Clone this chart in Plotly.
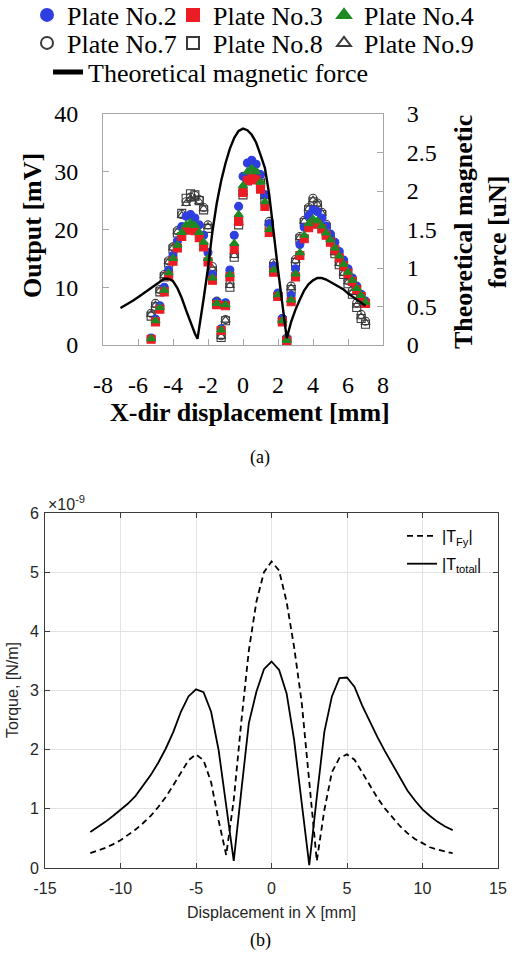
import plotly.graph_objects as go

# ---------------- data: (a) sensor output vs displacement ----------------
x_disp = [-5.25, -5.0, -4.75, -4.5, -4.25, -4.0, -3.75, -3.5, -3.25, -3.0,
          -2.75, -2.5, -2.25, -2.0, -1.75, -1.5, -1.25, -1.0, -0.75, -0.5,
          -0.25, 0.0, 0.25, 0.5, 0.75, 1.0, 1.25, 1.5, 1.75, 2.0,
          2.25, 2.5, 2.75, 3.0, 3.25, 3.5, 3.75, 4.0, 4.25, 4.5,
          4.75, 5.0, 5.25, 5.5, 5.75, 6.0, 6.25, 6.5, 6.75, 7.0]

plate2 = [1.2, 4.5, 6.8, 10.0, 13.0, 15.5, 18.0, 20.5, 22.3, 22.6,
          22.0, 20.8, 19.0, 16.0, 12.2, 7.5, 2.8, 7.3, 13.0, 19.0,
          24.0, 29.2, 31.5, 32.0, 31.3, 29.5, 26.0, 21.0, 13.6, 9.0,
          4.6, 1.0, 8.6, 13.2, 17.4, 20.4, 22.4, 23.4, 23.1, 22.0,
          20.6, 19.2, 17.8, 16.2, 14.7, 13.2, 11.6, 10.2, 8.8, 7.6]
plate3 = [1.0, 4.0, 6.2, 9.2, 12.0, 14.5, 16.8, 18.8, 19.9, 20.2,
          19.8, 18.6, 17.0, 14.4, 11.2, 7.0, 2.5, 6.8, 11.8, 16.6,
          21.4, 26.4, 28.5, 29.0, 28.6, 27.0, 24.0, 19.5, 12.6, 8.4,
          4.0, 0.7, 7.5, 11.8, 15.5, 18.4, 20.3, 21.1, 20.9, 20.1,
          19.0, 17.8, 16.5, 15.1, 13.7, 12.4, 11.0, 9.6, 8.4, 7.2]
plate4 = [1.1, 4.2, 6.5, 9.5, 12.5, 15.0, 17.3, 19.5, 20.8, 21.2,
          20.7, 19.5, 17.8, 15.0, 11.6, 7.2, 2.6, 7.0, 12.2, 17.6,
          22.6, 27.6, 30.0, 30.6, 30.0, 28.2, 24.8, 20.0, 13.0, 8.7,
          4.2, 0.8, 7.8, 12.3, 16.0, 19.0, 21.0, 21.8, 21.5, 20.6,
          19.4, 18.2, 16.8, 15.4, 14.0, 12.6, 11.2, 9.8, 8.6, 7.4]
plate7 = [5.5, 7.2, 9.6, 12.2, 14.6, 17.0, 19.8, 22.6, 24.8, 25.6,
          25.9, 25.2, 23.8, 20.8, 13.6, 7.6, 1.6, 4.4, 10.6, 15.8,
          21.6, 26.8, 29.2, 30.2, 29.8, 28.6, 26.0, 21.4, 14.2, 8.8,
          4.6, 1.2, 10.2, 14.8, 18.8, 21.6, 23.8, 25.4, 24.6, 23.0,
          20.9, 18.6, 16.3, 14.4, 12.7, 11.2, 9.5, 7.3, 5.3, 4.1]
plate8 = [5.0, 6.6, 9.2, 11.8, 14.2, 16.6, 19.4, 22.8, 25.4, 26.2,
          26.0, 25.0, 23.4, 20.2, 12.8, 7.2, 1.3, 4.2, 10.0, 15.2,
          20.8, 26.0, 28.4, 29.3, 29.0, 28.0, 25.4, 20.8, 13.6, 8.4,
          4.2, 0.8, 9.6, 14.3, 18.4, 21.2, 23.4, 24.8, 24.2, 22.6,
          20.4, 18.0, 15.8, 13.9, 12.2, 10.6, 8.8, 6.5, 4.6, 3.6]
plate9 = [5.3, 6.9, 9.4, 12.0, 14.4, 16.8, 19.6, 22.4, 24.5, 25.3,
          25.4, 24.8, 23.6, 20.5, 13.2, 7.4, 1.5, 4.3, 10.3, 15.5,
          21.2, 26.4, 28.8, 29.8, 29.4, 28.3, 25.7, 21.1, 13.9, 8.6,
          4.4, 1.0, 9.9, 14.6, 18.6, 21.4, 23.6, 25.1, 24.4, 22.8,
          20.6, 18.3, 16.0, 14.1, 12.4, 10.9, 9.1, 6.9, 4.9, 3.9]

x_force = [-7.0, -6.75, -6.5, -6.25, -6.0, -5.75, -5.5, -5.25, -5.0, -4.75,
           -4.5, -4.25, -4.0, -3.75, -3.5, -3.25, -3.0, -2.75, -2.6, -2.5,
           -2.25, -2.0, -1.75, -1.5, -1.25, -1.0, -0.75, -0.5, -0.25, 0.0,
           0.25, 0.5, 0.75, 1.0, 1.25, 1.5, 1.75, 2.0, 2.25, 2.5,
           2.75, 3.0, 3.25, 3.5, 3.75, 4.0, 4.25, 4.5, 4.75, 5.0,
           5.25, 5.5, 5.75, 6.0, 6.25, 6.5, 6.75, 7.0]
force_uN = [0.48, 0.51, 0.55, 0.58, 0.62, 0.66, 0.71, 0.75, 0.79, 0.83,
            0.86, 0.86, 0.83, 0.74, 0.61, 0.45, 0.29, 0.15, 0.08, 0.22,
            0.60, 1.00, 1.47, 1.84, 2.13, 2.36, 2.55, 2.69, 2.78, 2.81,
            2.79, 2.73, 2.63, 2.47, 2.30, 1.95, 1.42, 0.98, 0.53, 0.09,
            0.30, 0.46, 0.59, 0.71, 0.79, 0.84, 0.87, 0.87, 0.85, 0.82,
            0.79, 0.76, 0.72, 0.67, 0.63, 0.59, 0.55, 0.51]

x_ticks_a = [-8, -6, -4, -2, 0, 2, 4, 6, 8]
x_ticktext_a = ["-8", "-6", "-4", "-2", "0", "2", "4", "6", "8"]

# ---------------- data: (b) torque vs displacement (x1e-9 N/m) ----------------
x_b = [-12, -11.5, -11, -10.5, -10, -9.5, -9, -8.5, -8, -7.5,
       -7, -6.5, -6, -5.5, -5, -4.5, -4, -3.5, -3, -2.5,
       -2, -1.5, -1, -0.5, 0, 0.5, 1, 1.5, 2, 2.5,
       3, 3.5, 4, 4.5, 5, 5.5, 6, 6.5, 7, 7.5,
       8, 8.5, 9, 9.5, 10, 10.5, 11, 11.5, 12]
t_fy = [0.25, 0.29, 0.34, 0.40, 0.47, 0.56, 0.65, 0.76, 0.88, 1.03,
        1.20, 1.40, 1.62, 1.82, 1.92, 1.82, 1.45, 0.80, 0.22, 1.15,
        2.47, 3.68, 4.50, 5.00, 5.18, 5.03, 4.50, 3.73, 2.80, 1.52,
        0.12, 0.98, 1.62, 1.86, 1.92, 1.83, 1.62, 1.40, 1.19, 1.01,
        0.85, 0.71, 0.59, 0.49, 0.42, 0.35, 0.31, 0.28, 0.25]
t_total = [0.61, 0.69, 0.78, 0.88, 0.98, 1.09, 1.22, 1.40, 1.57, 1.78,
           2.02, 2.30, 2.64, 2.90, 3.02, 2.97, 2.64, 1.99, 1.05, 0.12,
           1.30, 2.45, 2.98, 3.36, 3.49, 3.35, 2.95, 2.16, 1.10, 0.05,
           1.20, 2.30, 2.90, 3.21, 3.22, 3.06, 2.75, 2.47, 2.22, 1.98,
           1.76, 1.53, 1.31, 1.14, 0.99, 0.88, 0.78, 0.70, 0.64]

x_ticks_b = [-15, -10, -5, 0, 5, 10, 15]
x_ticktext_b = ["-15", "-10", "-5", "0", "5", "10", "15"]

# ---------------- layout helpers (pixel -> paper) ----------------
W, H = 515, 954
def fx(p):
    return p / W
def fy(p):
    return 1 - p / H

SERIF = "Liberation Serif, Times New Roman, serif"
SANS = "Liberation Sans, Arial, sans-serif"
GRAYA = "#a6a6a6"

fig = go.Figure()

open_col = "#3a3a3a"
series = [
    ("Plate No.7", plate7, "circle-open", open_col, "legend4"),
    ("Plate No.8", plate8, "square-open", open_col, "legend5"),
    ("Plate No.9", plate9, "triangle-up-open", open_col, "legend6"),
    ("Plate No.2", plate2, "circle", "#2f3ee0", "legend"),
    ("Plate No.3", plate3, "square", "#ec1c24", "legend2"),
    ("Plate No.4", plate4, "triangle-up", "#1f8a24", "legend3"),
]
for name, vals, sym, col, lg in series:
    fig.add_trace(go.Scatter(
        x=x_disp, y=vals, mode="markers", name=name, legend=lg,
        marker=dict(symbol=sym, size=8, color=col, line=dict(width=1.1, color=col)),
        xaxis="x", yaxis="y"))

fig.add_trace(go.Scatter(
    x=x_force, y=force_uN, mode="lines", name="Theoretical magnetic force",
    legend="legend7", line=dict(color="black", width=2.4),
    xaxis="x", yaxis="y2"))

fig.add_trace(go.Scatter(
    x=x_b, y=t_fy, mode="lines", name="|T<sub>Fy</sub>|", legend="legend8",
    legendgroup="fy",
    line=dict(color="black", width=1.8, dash="6px,4px"),
    xaxis="x2", yaxis="y3"))
fig.add_trace(go.Scatter(
    x=x_b, y=t_total, mode="lines", name="|T<sub>total</sub>|", legend="legend8",
    legendgroup="tot",
    line=dict(color="black", width=1.8),
    xaxis="x2", yaxis="y3"))

# axes (a)
ax_a = dict(showline=True, linecolor=GRAYA, linewidth=1, ticks="inside",
            tickcolor=GRAYA, ticklen=6, showgrid=False, zeroline=False,
            tickfont=dict(family=SERIF, size=24, color="black"))
fig.update_layout(
    xaxis=dict(domain=[fx(103), fx(383)], anchor="y", range=[-8, 8],
               tickvals=x_ticks_a, ticktext=x_ticktext_a, mirror=True,
               ticklabelstandoff=18, **ax_a),
    yaxis=dict(domain=[fy(345), fy(114)], anchor="x", range=[0, 40],
               dtick=10, mirror=False, ticklabelstandoff=19, **ax_a),
    yaxis2=dict(domain=[fy(345), fy(114)], anchor="x", overlaying="y",
                side="right", range=[0, 3], dtick=0.5, ticklabelstandoff=18,
                **ax_a),
)

# axes (b)
ax_b = dict(showline=True, linecolor="#3c3c3c", linewidth=1, ticks="inside",
            tickcolor="#3c3c3c", ticklen=5, mirror="ticks", showgrid=True,
            gridcolor="#e3e3e3", gridwidth=1, zeroline=False,
            tickfont=dict(family=SANS, size=16, color="#262626"))
fig.update_layout(
    xaxis2=dict(domain=[fx(45), fx(498)], anchor="y3", range=[-15, 15],
                tickvals=x_ticks_b, ticktext=x_ticktext_b,
                ticklabelstandoff=6, **ax_b),
    yaxis3=dict(domain=[fy(868), fy(513)], anchor="x2", range=[0, 6],
                dtick=1, ticklabelstandoff=2, **ax_b),
)

# legends
leg_common = dict(bgcolor="rgba(0,0,0,0)", borderwidth=0, xanchor="left",
                  yanchor="middle", itemsizing="constant",
                  font=dict(family=SERIF, size=26, color="black"))
legend_pos = {
    "legend": (27, 15), "legend2": (173, 15), "legend3": (324, 15),
    "legend4": (27, 43), "legend5": (173, 43), "legend6": (324, 43),
    "legend7": (48, 72),
}
for key, (lx, ly) in legend_pos.items():
    fig.update_layout({key: dict(x=fx(lx), y=fy(ly), **leg_common)})
fig.update_layout(legend8=dict(
    x=fx(402), y=fy(550), xanchor="left", yanchor="middle",
    bgcolor="rgba(0,0,0,0)", borderwidth=0, traceorder="grouped",
    tracegroupgap=4,
    font=dict(family=SANS, size=16, color="black")))

# text: axis titles and captions
ann = [
    dict(text="<b>Output [mV]</b>", x=fx(32), y=fy(226), textangle=-90,
         font=dict(family=SERIF, size=26, color="black")),
    dict(text="<b>Theoretical magnetic<br>force [uN]</b>", x=fx(480), y=fy(232),
         textangle=-90, font=dict(family=SERIF, size=26, color="black")),
    dict(text="<b>X-dir displacement [mm]</b>", x=fx(250), y=fy(412),
         font=dict(family=SERIF, size=26, color="black")),
    dict(text="(a)", x=fx(260), y=fy(457),
         font=dict(family=SERIF, size=18, color="black")),
    dict(text="Torque, [N/m]", x=fx(12), y=fy(690), textangle=-90,
         font=dict(family=SANS, size=16, color="#262626")),
    dict(text="Displacement in X [mm]", x=fx(271), y=fy(912),
         font=dict(family=SANS, size=16, color="#262626")),
    dict(text="×10<sup>-9</sup>", x=fx(46), y=fy(503), xanchor="left",
         font=dict(family=SANS, size=16, color="#262626")),
    dict(text="(b)", x=fx(260), y=fy(940),
         font=dict(family=SERIF, size=18, color="black")),
]
for a in ann:
    a.setdefault("xanchor", "center")
    a.setdefault("yanchor", "middle")
    fig.add_annotation(xref="paper", yref="paper", showarrow=False, **a)

fig.update_layout(width=W, height=H,
                  margin=dict(l=0, r=0, t=0, b=0, autoexpand=False),
                  paper_bgcolor="white", plot_bgcolor="white",
                  showlegend=True)

fig.write_html("out.html",
               config={"displayModeBar": False},
               post_script="document.body.style.margin='0px';"
                           "document.body.style.overflow='hidden';")
